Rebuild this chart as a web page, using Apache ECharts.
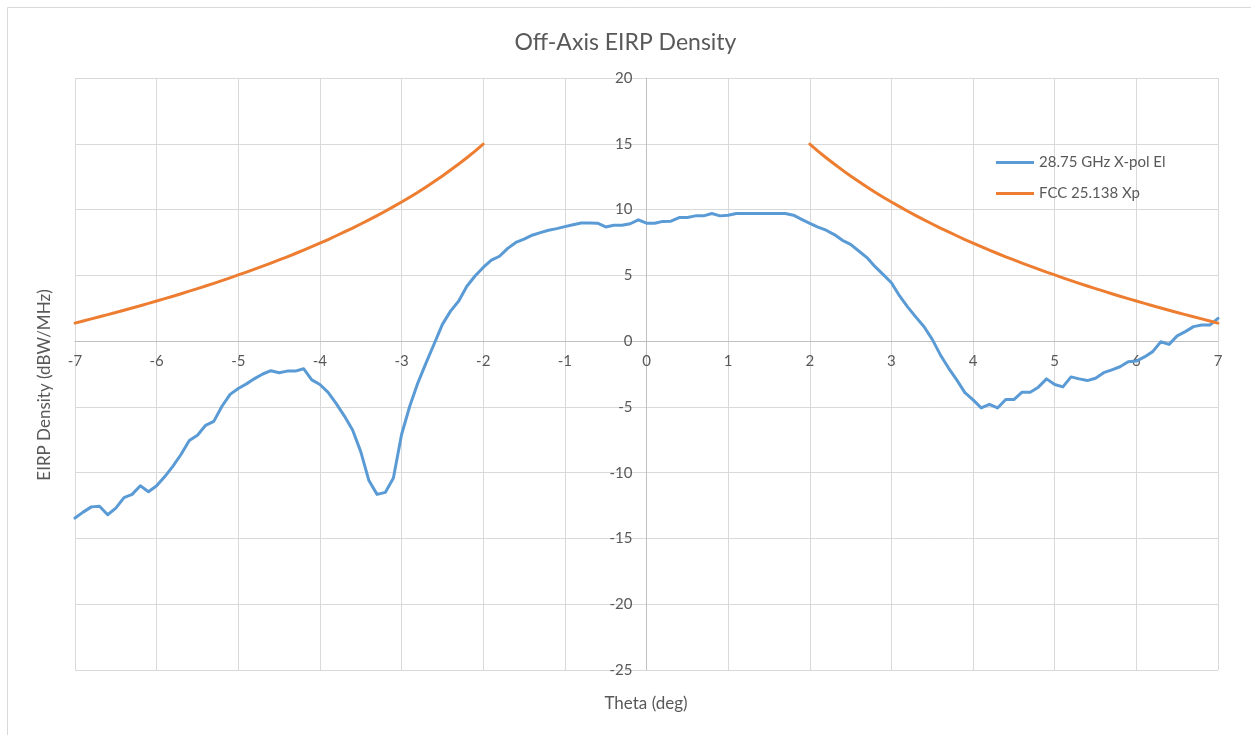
<!DOCTYPE html>
<html>
<head>
<meta charset="utf-8">
<script src="https://cdn.jsdelivr.net/npm/echarts@6/dist/echarts.min.js"></script>
<style>
html,body{margin:0;padding:0;background:#fff;}
#chart{width:1251px;height:735px;}
</style>
</head>
<body>
<div id="chart"></div>
<script>
// Theta (deg)
var theta = [-7.0,-6.9,-6.8,-6.7,-6.6,-6.5,-6.4,-6.3,-6.2,-6.1,
-6.0,-5.9,-5.8,-5.7,-5.6,-5.5,-5.4,-5.3,-5.2,-5.1,
-5.0,-4.9,-4.8,-4.7,-4.6,-4.5,-4.4,-4.3,-4.2,-4.1,
-4.0,-3.9,-3.8,-3.7,-3.6,-3.5,-3.4,-3.3,-3.2,-3.1,
-3.0,-2.9,-2.8,-2.7,-2.6,-2.5,-2.4,-2.3,-2.2,-2.1,
-2.0,-1.9,-1.8,-1.7,-1.6,-1.5,-1.4,-1.3,-1.2,-1.1,
-1.0,-0.9,-0.8,-0.7,-0.6,-0.5,-0.4,-0.3,-0.2,-0.1,
0.0,0.1,0.2,0.3,0.4,0.5,0.6,0.7,0.8,0.9,
1.0,1.1,1.2,1.3,1.4,1.5,1.6,1.7,1.8,1.9,
2.0,2.1,2.2,2.3,2.4,2.5,2.6,2.7,2.8,2.9,
3.0,3.1,3.2,3.3,3.4,3.5,3.6,3.7,3.8,3.9,
4.0,4.1,4.2,4.3,4.4,4.5,4.6,4.7,4.8,4.9,
5.0,5.1,5.2,5.3,5.4,5.5,5.6,5.7,5.8,5.9,
6.0,6.1,6.2,6.3,6.4,6.5,6.6,6.7,6.8,6.9,
7.0];

// 28.75 GHz X-pol El (dBW/MHz)
var xpolEl = [-13.45,-13.0,-12.6,-12.55,-13.2,-12.7,-11.9,-11.65,-11.0,-11.45,
-11.0,-10.3,-9.5,-8.6,-7.55,-7.15,-6.4,-6.1,-4.95,-4.05,
-3.6,-3.25,-2.85,-2.5,-2.25,-2.4,-2.28,-2.28,-2.1,-2.95,
-3.3,-3.9,-4.75,-5.7,-6.75,-8.4,-10.6,-11.65,-11.5,-10.4,
-7.1,-4.95,-3.17,-1.65,-0.2,1.27,2.28,3.05,4.17,4.95,
5.6,6.15,6.45,7.05,7.5,7.75,8.05,8.25,8.43,8.55,
8.7,8.85,8.98,8.98,8.96,8.68,8.8,8.8,8.92,9.22,
8.96,8.96,9.1,9.12,9.39,9.39,9.52,9.52,9.7,9.52,
9.57,9.7,9.7,9.7,9.7,9.7,9.7,9.7,9.57,9.26,
8.95,8.66,8.43,8.1,7.66,7.36,6.85,6.35,5.66,5.05,
4.44,3.43,2.58,1.82,1.09,0.13,-1.05,-2.05,-2.95,-3.92,
-4.47,-5.08,-4.8,-5.08,-4.44,-4.44,-3.88,-3.88,-3.5,-2.87,
-3.3,-3.48,-2.72,-2.87,-3.0,-2.82,-2.4,-2.18,-1.95,-1.57,
-1.52,-1.2,-0.8,-0.05,-0.25,0.4,0.72,1.1,1.22,1.22,
1.73];

// FCC 25.138 Xp limit (dBW/MHz); null where not defined
var fccXp = [1.37,1.53,1.69,1.85,2.01,2.18,2.35,2.52,2.69,2.87,
3.05,3.23,3.41,3.60,3.80,3.99,4.19,4.39,4.60,4.81,
5.03,5.24,5.47,5.70,5.93,6.17,6.41,6.66,6.92,7.18,
7.45,7.72,8.01,8.30,8.59,8.90,9.21,9.54,9.87,10.22,
10.57,10.94,11.32,11.72,12.13,12.55,13.00,13.46,13.94,14.44,
14.97,null,null,null,null,null,null,null,null,null,
null,null,null,null,null,null,null,null,null,null,
null,null,null,null,null,null,null,null,null,null,
null,null,null,null,null,null,null,null,null,null,
14.97,14.44,13.94,13.46,13.00,12.55,12.13,11.72,11.32,10.94,
10.57,10.22,9.87,9.54,9.21,8.90,8.59,8.30,8.01,7.72,
7.45,7.18,6.92,6.66,6.41,6.17,5.93,5.70,5.47,5.24,
5.03,4.81,4.60,4.39,4.19,3.99,3.80,3.60,3.41,3.23,
3.05,2.87,2.69,2.52,2.35,2.18,2.01,1.85,1.69,1.53,
1.37];

var seriesNames = ['28.75 GHz X-pol El', 'FCC 25.138 Xp'];
var titleText = 'Off-Axis EIRP Density';
var xAxisTitle = 'Theta (deg)';
var yAxisTitle = 'EIRP Density (dBW/MHz)';

function pairs(xs, ys) {
  return xs.map(function (x, i) { return [x, ys[i]]; });
}

var FONT = 'Lato, "Open Sans", sans-serif';
var TXT = '#595959';

var chart = echarts.init(document.getElementById('chart'), null, {renderer: 'canvas'});
var option = {
  animation: false,
  backgroundColor: '#ffffff',
  textStyle: {fontFamily: FONT, color: TXT},
  title: {
    text: titleText,
    left: 'center',
    top: 26,
    textStyle: {fontFamily: FONT, fontSize: 23, fontWeight: 'normal', color: TXT}
  },
  legend: {
    orient: 'vertical',
    left: 991,
    top: 150,
    itemGap: 16,
    itemWidth: 38,
    itemHeight: 3,
    textStyle: {fontFamily: FONT, fontSize: 15, color: TXT},
    data: [
      {name: seriesNames[0], icon: 'rect'},
      {name: seriesNames[1], icon: 'rect'}
    ]
  },
  grid: {left: 75, right: 33, top: 78, bottom: 65, containLabel: false},
  xAxis: {
    type: 'value',
    min: -7, max: 7, interval: 1,
    position: 'bottom',
    offset: 0,
    axisLine: {onZero: false, lineStyle: {color: '#bfbfbf', width: 1}},
    axisTick: {show: false},
    axisLabel: {color: TXT, fontSize: 15, fontFamily: FONT, margin: 13},
    splitLine: {show: true, lineStyle: {color: '#d9d9d9', width: 1}}
  },
  yAxis: {
    type: 'value',
    min: -25, max: 20, interval: 5,
    position: 'left',
    offset: 0,
    axisLine: {show: true, onZero: false, lineStyle: {color: '#bfbfbf', width: 1}},
    axisTick: {show: false},
    axisLabel: {color: TXT, fontSize: 15, fontFamily: FONT, margin: 14},
    splitLine: {show: true, lineStyle: {color: '#d9d9d9', width: 1}}
  },
  graphic: [
    {
      type: 'rect', silent: true, z: -1,
      shape: {x: 7.5, y: 7.5, width: 1400, height: 900},
      style: {fill: 'none', stroke: '#d9d9d9', lineWidth: 1}
    },
    {
      type: 'text', x: 646, y: 704,
      style: {text: xAxisTitle, font: '17px ' + FONT, fill: TXT, align: 'center', verticalAlign: 'middle'}
    },
    {
      type: 'text', x: 45, y: 385, rotation: Math.PI / 2,
      style: {text: yAxisTitle, font: '17px ' + FONT, fill: TXT, align: 'center', verticalAlign: 'middle'}
    }
  ],
  series: [
    {
      name: seriesNames[0],
      type: 'line',
      data: pairs(theta, xpolEl),
      showSymbol: false,
      symbol: 'none',
      lineStyle: {color: '#5b9bd5', width: 3, join: 'round', cap: 'round'},
      itemStyle: {color: '#5b9bd5'}
    },
    {
      name: seriesNames[1],
      type: 'line',
      data: pairs(theta, fccXp),
      showSymbol: false,
      symbol: 'none',
      connectNulls: false,
      lineStyle: {color: '#ed7d31', width: 3, join: 'round', cap: 'round'},
      itemStyle: {color: '#ed7d31'}
    }
  ]
};
chart.setOption(option);

// Move the axes so they cross at the origin (Excel style), using the library's own scales.
var origin = chart.convertToPixel({gridIndex: 0}, [0, 0]);
var gridRect = chart.getModel().getComponent('grid', 0).coordinateSystem.getRect();
var xOffset = -((gridRect.y + gridRect.height) - origin[1]);
var yOffset = -(origin[0] - gridRect.x);
chart.setOption({
  xAxis: {offset: xOffset},
  yAxis: {offset: yOffset}
});
</script>
</body>
</html>
